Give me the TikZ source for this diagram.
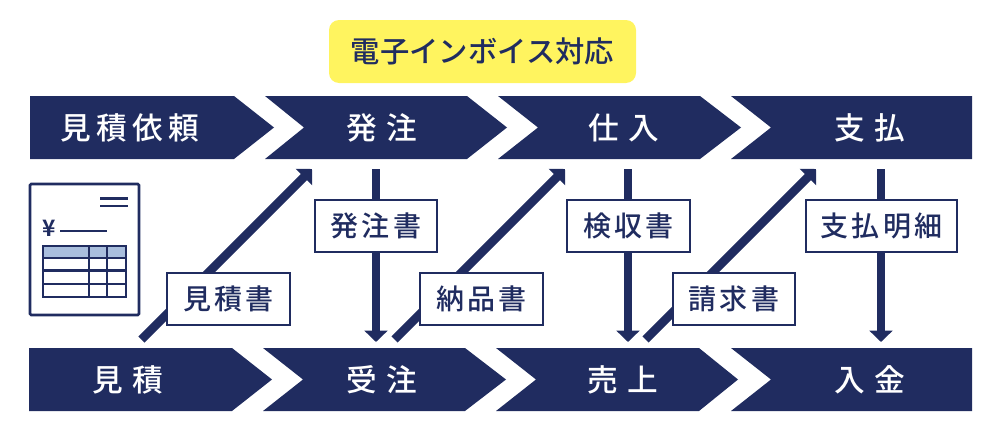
\documentclass[tikz,border=0pt]{standalone}
\usepackage{fontspec}
\setmainfont{Noto Sans CJK JP Medium}[BoldFont={Noto Sans CJK JP Bold}]
\newfontfamily\bandfont[LetterSpace=30]{Noto Sans CJK JP Medium}
\newfontfamily\wideband[LetterSpace=17]{Noto Sans CJK JP Medium}
\newfontfamily\slipfont[LetterSpace=12]{Noto Sans CJK JP Medium}
\usetikzlibrary{arrows.meta}
\definecolor{navy}{HTML}{202C60}
\definecolor{notice}{HTML}{FFF45F}
\definecolor{rowhead}{HTML}{A9BEDD}
\tikzset{
    band/.style={fill=navy},
    bandlabel/.style={text=white,font=\bandfont\fontsize{23}{23}\selectfont,inner sep=0pt},
    slip/.style={draw=navy,line width=1.5pt,fill=white,text=navy,font=\slipfont\fontsize{21}{21}\selectfont,inner sep=0pt,minimum height=38.5pt},
    flow/.style={draw=navy,line width=6.4pt,-{Triangle[length=8.5pt,width=17pt]}},
    inkline/.style={draw=navy,line width=2pt}
}
\begin{document}
\begin{tikzpicture}[x=0.75pt,y=-0.75pt]
    \useasboundingbox (0,0) rectangle (1000,432);

    % Notice
    \node[fill=notice,rounded corners=7.5pt,text=navy,font=\fontsize{22}{22}\selectfont,inner sep=0pt,minimum width=230.25pt,minimum height=47.25pt] (notice) at (482.5,51.5) {電子インボイス対応};

    % Top row
    \fill[band] (30,96) -- (234,96) -- (274,127.5) -- (234,159) -- (30,159) -- cycle;
    \fill[band] (265,96) -- (467,96) -- (507,127.5) -- (467,159) -- (265,159) -- (304,127.5) -- cycle;
    \fill[band] (498,96) -- (700,96) -- (741,127.5) -- (700,159) -- (498,159) -- (538,127.5) -- cycle;
    \fill[band] (731,96) -- (972,96) -- (972,159) -- (731,159) -- (771,127.5) -- cycle;
    \node[bandlabel,font=\wideband\fontsize{23}{23}\selectfont] (irai) at (130,128) {見積依頼};
    \node[bandlabel] (hatchu) at (382,128) {発注};
    \node[bandlabel] (shiire) at (624,128) {仕入};
    \node[bandlabel] (shiharai) at (870,128) {支払};

    % Bottom row
    \fill[band] (29,348) -- (232,348) -- (272,379.5) -- (232,411) -- (29,411) -- cycle;
    \fill[band] (263,348) -- (465,348) -- (506,379.5) -- (465,411) -- (263,411) -- (303,379.5) -- cycle;
    \fill[band] (496,348) -- (699,348) -- (738,379.5) -- (699,411) -- (496,411) -- (536,379.5) -- cycle;
    \fill[band] (731,348) -- (972,348) -- (972,411) -- (731,411) -- (771,379.5) -- cycle;
    \node[bandlabel] (mitsumori) at (128,380) {見積};
    \node[bandlabel] (juchu) at (382,380) {受注};
    \node[bandlabel] (uriage) at (623,380) {売上};
    \node[bandlabel] (nyukin) at (870,380) {入金};

    % Arrow ends
    \coordinate (d1s) at (141.5,339.5);
    \coordinate (d1e) at (312,169);
    \coordinate (d2s) at (394.5,339.5);
    \coordinate (d2e) at (565,169);
    \coordinate (d3s) at (645.5,339.5);
    \coordinate (d3e) at (816,169);
    \coordinate (v1s) at (376,169);
    \coordinate (v1e) at (376,342);
    \coordinate (v2s) at (628,169);
    \coordinate (v2e) at (628,342);
    \coordinate (v3s) at (881,169);
    \coordinate (v3e) at (881,342);

    \draw[flow] (d1s) -- (d1e);
    \draw[flow] (d2s) -- (d2e);
    \draw[flow] (d3s) -- (d3e);
    \draw[flow] (v1s) -- (v1e);
    \draw[flow] (v2s) -- (v2e);
    \draw[flow] (v3s) -- (v3e);

    % Slips on top of arrows
    \node[slip,minimum width=92pt] (estimate) at (228.5,299) {見積書};
    \node[slip,minimum width=92pt] (order) at (376,226) {発注書};
    \node[slip,minimum width=92pt] (delivery) at (481.5,299) {納品書};
    \node[slip,minimum width=92pt] (inspect) at (628.5,226) {検収書};
    \node[slip,minimum width=92pt] (invoice) at (734,299) {請求書};
    \node[slip,minimum width=113pt] (statement) at (881.5,226) {支払明細};

    % Document icon
    \draw[inkline,rounded corners=1pt] (30,184) rectangle (139,315);
    \draw[inkline] (100,198.5) -- (128,198.5);
    \draw[inkline] (100,206) -- (128,206);
    \node[text=navy,font=\bfseries\fontsize{17}{17}\selectfont,inner sep=0pt] (yen) at (49,228) {¥};
    \draw[inkline] (60,231) -- (107,231);
    \fill[rowhead] (43,246) rectangle (126,258);
    \draw[inkline] (43,246) rectangle (126,297);
    \foreach \y in {258,270.5,284} {
        \draw[inkline] (43,\y) -- (126,\y);
    }
    \foreach \x in {89,107} {
        \draw[inkline] (\x,246) -- (\x,297);
    }
\end{tikzpicture}
\end{document}
